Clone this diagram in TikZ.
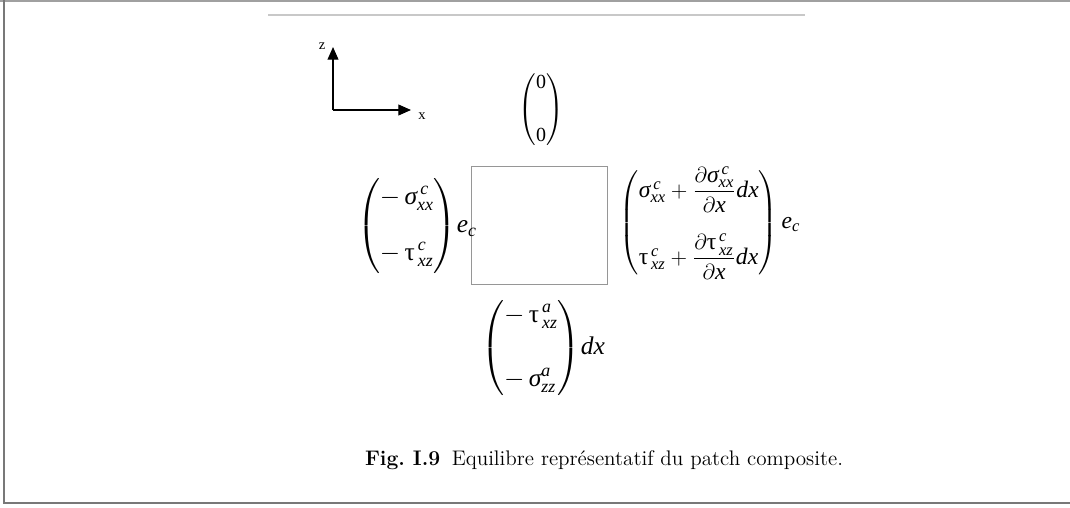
\documentclass[tikz,border=0pt]{standalone}
\usepackage{amsmath}
\usepackage{fontspec}
\newfontfamily\tms{Liberation Serif}
\usetikzlibrary{arrows.meta}
\definecolor{framegrey}{RGB}{120,120,120}
\definecolor{rulegrey}{RGB}{200,200,200}
\definecolor{boxgrey}{RGB}{150,150,150}
\setlength{\arraycolsep}{0pt}
% letters of the figure, set in Times
\newcommand{\mt}[1]{\text{\tms\itshape #1}}
\newcommand{\sg}{\text{\tms\itshape σ}}
\newcommand{\ta}{\text{\tms τ}}
\tikzset{
    % page frame
    frame/.style={
        draw=framegrey,
        line width=1.1pt,
    },
    % patch element
    patch/.style={
        draw=boxgrey,
        line width=0.5pt,
        minimum width=74.8pt,
        minimum height=64.9pt,
        inner sep=0pt,
    },
    % load vectors
    vec/.style={
        inner sep=0pt,
        font=\fontsize{14}{17}\selectfont,
    },
    % axes
    axis/.style={
        line width=0.7pt,
        -{Triangle[length=7pt,width=6pt]},
    },
}

\begin{document}
\begin{tikzpicture}[x=0.55pt,y=-0.55pt]
    \useasboundingbox (0,0) rectangle (1070,507);
    % frame
    \draw[rulegrey!80!black, line width=0.8pt] (0,1) -- (1070,1);
    \draw[frame] (4,0) -- (4,503) -- (1070,503);
    \draw[rulegrey, line width=0.6pt] (268,15) -- (805,15);

    % axes
    \coordinate (o) at (333,110);
    \coordinate (ztip) at (333,47);
    \coordinate (xtip) at (411,110);
    \draw[axis] (o) -- (ztip);
    \draw[axis] (o) -- (xtip);
    \node[font=\tms\fontsize{8}{9}\selectfont] (zlab) at (322,46) {z};
    \node[font=\tms\fontsize{8}{9}\selectfont] (xlab) at (422,116) {x};

    % patch and loads
    \node[patch] (p) at (539,225) {};
    \node[vec,font=\tms\fontsize{11}{13}\selectfont] (top) at (541,110) {$\left(\begin{array}{l} \mt{\upshape 0} \\[16pt] \mt{\upshape 0} \end{array}\right)$};
    \node[vec] (left) at (417,226) {${\left(\begin{array}{l} -\,\sg^{\,\mt{c}}_{\mt{xx}} \\[14pt] -\,\ta^{\,\mt{c}}_{\,\mt{xz}} \end{array}\right)}\mt{e}_{\mt{c}}$};
    \node[vec,font=\fontsize{13}{16}\selectfont] (right) at (710,223) {${\left(\begin{array}{l} \sg^{\,\mt{c}}_{\mt{xx}}+\dfrac{\partial\sg^{\,\mt{c}}_{\mt{xx}}}{\partial\mt{x}}\mt{dx} \\ \noalign{\vskip 12pt} \ta^{\,\mt{c}}_{\,\mt{xz}}+\dfrac{\partial\ta^{\,\mt{c}}_{\,\mt{xz}}}{\partial\mt{x}}\mt{dx} \end{array}\right)}\,\mt{e}_{\mt{c}}$};
    \node[vec] (bottom) at (543,348) {${\left(\begin{array}{l} -\,\ta^{\,\mt{a}}_{\,\mt{xz}} \\[18pt] -\,\sg^{\mt{a}}_{\mt{zz}} \end{array}\right)}\mt{dx}$};

    % caption
    \node[font=\fontsize{11.6}{14}\selectfont] (cap) at (604,460) {\textbf{Fig.\ I.9}\hspace{0.55em}Equilibre représentatif du patch composite.};
\end{tikzpicture}
\end{document}
